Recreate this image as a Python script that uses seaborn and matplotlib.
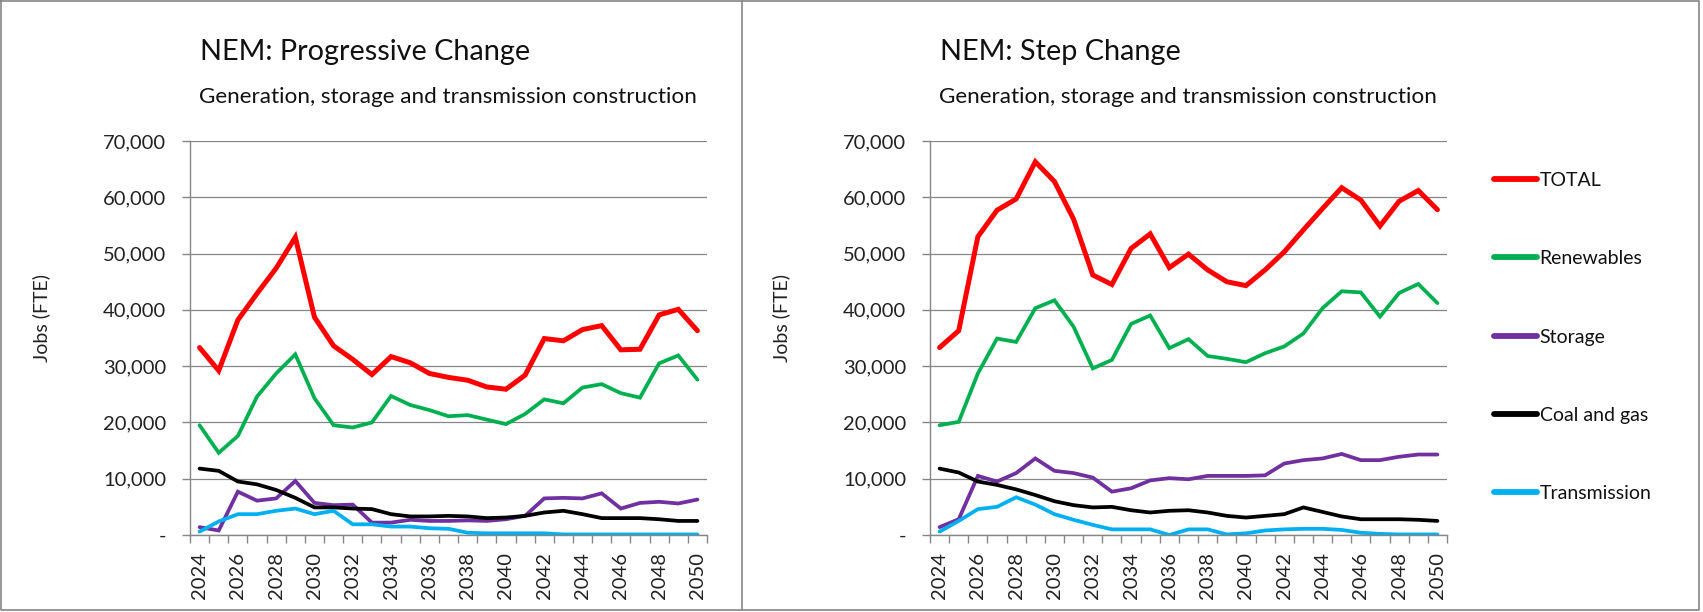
import matplotlib
matplotlib.use("Agg")
import matplotlib.pyplot as plt
import seaborn as sns
import pandas as pd
from matplotlib.lines import Line2D
from matplotlib.ticker import FuncFormatter

years = list(range(2024, 2051))
series_names = ["TOTAL", "Renewables", "Storage", "Coal and gas", "Transmission"]

# NEM: Progressive Change
pc_total = [33300, 29200, 38200, 42900, 47400, 52900, 38700, 33600, 31200, 28500,
            31700, 30600, 28700, 28000, 27500, 26300, 25900, 28400, 34900, 34500,
            36500, 37200, 32900, 33000, 39100, 40100, 36300]
pc_renew = [19500, 14600, 17600, 24600, 28700, 32100, 24300, 19500, 19100, 20000,
            24700, 23100, 22200, 21100, 21300, 20500, 19700, 21500, 24100, 23400,
            26200, 26800, 25200, 24400, 30500, 31900, 27600]
pc_storage = [1400, 800, 7700, 6100, 6500, 9600, 5700, 5300, 5400, 2200,
              2200, 2700, 2500, 2500, 2600, 2500, 2800, 3400, 6500, 6600,
              6500, 7400, 4700, 5700, 5900, 5600, 6300]
pc_coal = [11800, 11400, 9500, 9000, 8000, 6600, 4900, 4900, 4700, 4600,
           3700, 3300, 3300, 3400, 3300, 3000, 3100, 3400, 4000, 4300,
           3700, 3000, 3000, 3000, 2800, 2500, 2500]
pc_trans = [600, 2400, 3700, 3700, 4300, 4700, 3700, 4300, 1900, 1900,
            1500, 1500, 1200, 1100, 400, 300, 300, 300, 300, 100,
            100, 100, 100, 100, 100, 100, 100]

# NEM: Step Change
sc_total = [33300, 36300, 53000, 57700, 59700, 66300, 62800, 56100, 46200, 44500,
            50900, 53500, 47500, 49900, 47100, 45000, 44300, 47100, 50300, 54200,
            58000, 61700, 59500, 54900, 59300, 61200, 57800]
sc_renew = [19500, 20100, 28700, 34900, 34300, 40300, 41700, 37000, 29600, 31100,
            37500, 39000, 33200, 34800, 31800, 31300, 30700, 32300, 33500, 35800,
            40300, 43300, 43100, 38800, 43000, 44600, 41200]
sc_storage = [1400, 2800, 10500, 9500, 11000, 13600, 11400, 11000, 10200, 7700,
              8300, 9700, 10100, 9900, 10500, 10500, 10500, 10600, 12700, 13300,
              13600, 14400, 13300, 13300, 13900, 14300, 14300]
sc_coal = [11800, 11100, 9500, 8900, 8100, 7100, 6000, 5300, 4900, 5000,
           4400, 4000, 4300, 4400, 4000, 3400, 3100, 3400, 3700, 4900,
           4100, 3300, 2800, 2800, 2800, 2700, 2500]
sc_trans = [600, 2500, 4600, 5000, 6700, 5400, 3700, 2700, 1800, 1000,
            1000, 1000, 0, 1000, 1000, 100, 300, 800, 1000, 1100,
            1100, 900, 400, 200, 100, 100, 100]

titles = ["NEM: Progressive Change", "NEM: Step Change"]
subtitle = "Generation, storage and transmission construction"
y_label = "Jobs (FTE)"

colors = {"TOTAL": "#FF0000", "Renewables": "#00B050", "Storage": "#7030A0",
          "Coal and gas": "#000000", "Transmission": "#00B0F0"}
widths = {"TOTAL": 3.6, "Renewables": 2.7, "Storage": 2.7,
          "Coal and gas": 2.7, "Transmission": 2.7}


def make_df(total, renew, storage, coal, trans):
    rows = []
    for name, vals in zip(series_names, [total, renew, storage, coal, trans]):
        for y, v in zip(years, vals):
            rows.append({"Year": y, "Series": name, "Jobs": v})
    return pd.DataFrame(rows)


dfs = [make_df(pc_total, pc_renew, pc_storage, pc_coal, pc_trans),
       make_df(sc_total, sc_renew, sc_storage, sc_coal, sc_trans)]

sns.set_theme(style="white")
plt.rcParams["font.family"] = ["Lato", "DejaVu Sans"]

W, H = 1703, 612
fig = plt.figure(figsize=(W / 100, H / 100), dpi=100)

grey = "#868686"
ax_lefts = [190, 930]
ax_w = 517
ax_top, ax_bot = 141, 535

for i, df in enumerate(dfs):
    ax = fig.add_axes([ax_lefts[i] / W, 1 - ax_bot / H, ax_w / W, (ax_bot - ax_top) / H])
    for name in series_names:
        sub = df[df["Series"] == name]
        sns.lineplot(data=sub, x="Year", y="Jobs", color=colors[name],
                     linewidth=widths[name], ax=ax, label=name, legend=False,
                     solid_capstyle="round", solid_joinstyle="miter")
    ax.set_xlim(2023.5, 2050.5)
    ax.set_ylim(0, 70000)
    ax.set_yticks(range(0, 70001, 10000))
    ax.yaxis.set_major_formatter(FuncFormatter(lambda v, p: "-" if v == 0 else f"{int(v):,}"))
    ax.set_xticks(years[::2])
    ax.set_xticklabels([str(y) for y in years[::2]], rotation=90)
    ax.set_xticks([y - 0.5 for y in years] + [2050.5], minor=True)
    ax.tick_params(axis="x", which="major", length=0, pad=12, labelsize=14.5, colors="#222222")
    ax.tick_params(axis="x", which="minor", length=6, width=1, color=grey, direction="out", bottom=True)
    ax.tick_params(axis="y", which="major", length=6, width=1, color=grey, direction="out",
                   pad=11, labelsize=14.5, labelcolor="#222222", left=True)
    ax.grid(axis="y", color=grey, linewidth=0.9)
    ax.grid(axis="x", visible=False)
    ax.set_axisbelow(True)
    for s in ["top", "right"]:
        ax.spines[s].set_visible(False)
    for s in ["left", "bottom"]:
        ax.spines[s].set_color(grey)
        ax.spines[s].set_linewidth(1)
    ax.set_xlabel("")
    ax.set_ylabel(y_label, fontsize=14, color="#222222")
    ax.yaxis.set_label_coords(-0.27, 0.55)
    fig.text((ax_lefts[i] + 10) / W, 1 - 52 / H, titles[i], fontsize=20.8, va="center", ha="left", color="#111111")
    fig.text((ax_lefts[i] + 9) / W, 1 - 97 / H, subtitle, fontsize=16.2, va="center", ha="left", color="#111111")

handles = [Line2D([0], [0], color=colors[n], linewidth=4.2, solid_capstyle="round") for n in series_names]
fig.legend(handles, series_names, loc="upper left", bbox_to_anchor=(1494 / W, 1 - 172 / H),
           frameon=False, fontsize=14, handlelength=2.2, handletextpad=0.15,
           labelspacing=3.15, borderpad=0, borderaxespad=0, labelcolor="#111111")

# frame and divider
fig.add_artist(Line2D([0.5 / W, 0.5 / W, 1 - 4 / W, 1 - 4 / W, 0.5 / W],
                      [1 - 1 / H, 2 / H, 2 / H, 1 - 1 / H, 1 - 1 / H],
                      transform=fig.transFigure, color=grey, linewidth=1.2))
fig.add_artist(Line2D([742 / W, 742 / W], [2 / H, 1 - 1 / H], transform=fig.transFigure,
                      color=grey, linewidth=1.2))

fig.savefig("out.png", dpi=100)
